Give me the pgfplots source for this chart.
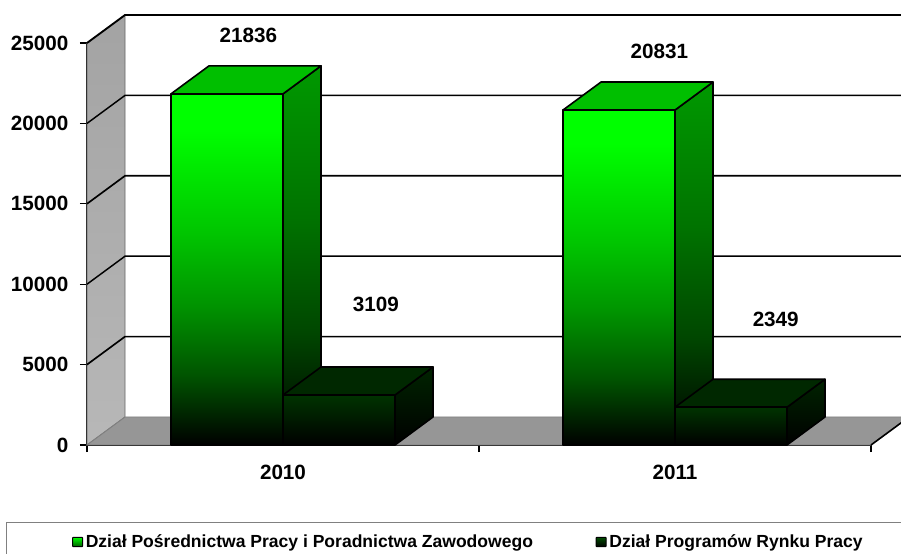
\documentclass[border=0pt]{standalone}
\usepackage{fontspec}
\setmainfont{Liberation Sans}
\usepackage{pgfplots}
\pgfplotsset{compat=1.18}
\pgfdeclareverticalshading{frontA}{100bp}{rgb(0bp)=(0,0,0);rgb(25bp)=(0,0,0);rgb(35bp)=(0,0.33,0);rgb(45bp)=(0,0.58,0);rgb(55bp)=(0,0.77,0);rgb(70bp)=(0,1,0);rgb(75bp)=(0,1,0);rgb(100bp)=(0,1,0)}
\pgfdeclareverticalshading{sideA}{100bp}{rgb(0bp)=(0,0,0);rgb(25bp)=(0,0,0);rgb(40bp)=(0,0.28,0);rgb(55bp)=(0,0.45,0);rgb(75bp)=(0,0.6,0);rgb(100bp)=(0,0.6,0)}
\pgfdeclareverticalshading{frontB}{100bp}{rgb(0bp)=(0,0,0);rgb(25bp)=(0,0,0);rgb(75bp)=(0,0.2,0);rgb(100bp)=(0,0.2,0)}
\pgfdeclareverticalshading{sideB}{100bp}{rgb(0bp)=(0,0,0);rgb(25bp)=(0,0,0);rgb(75bp)=(0,0.14,0);rgb(100bp)=(0,0.14,0)}
\pgfdeclareverticalshading{wallS}{100bp}{rgb(0bp)=(0.72,0.72,0.72);rgb(25bp)=(0.72,0.72,0.72);rgb(75bp)=(0.64,0.64,0.64);rgb(100bp)=(0.64,0.64,0.64)}
\begin{document}
\begin{tikzpicture}
\begin{axis}[
  at={(0pt,0pt)}, anchor=south west,
  scale only axis,
  width=588pt, height=301.5pt,
  xmin=0, xmax=2, ymin=0, ymax=25000,
  clip=false,
  scaled ticks=false,
  axis x line=bottom, axis y line=left,
  axis line style={-, black, line width=1.3pt},
  every axis plot/.append style={forget plot},
  ytick={0,5000,10000,15000,20000,25000},
  yticklabels={0,5000,10000,15000,20000,25000},
  xtick={0.5,1.5}, xticklabels={2010,2011},
  minor xtick={0,1,2},
  major x tick style={draw=none},
  tick align=outside,
  tick style={black, line width=0.9pt},
  major tick length=5.25pt, minor tick length=5.25pt,
  tick label style={font=\fontsize{15.5}{18}\selectfont\bfseries},
  /pgf/number format/assume math mode=true,
  /pgf/number format/1000 sep={},
  yticklabel style={inner xsep=8.6pt},
  xticklabel style={yshift=-6.5pt},
  legend style={at={(-0.0191,-0.2413)}, anchor=west, draw=none, fill=none, inner sep=0pt, outer sep=0pt,
    font=\fontsize{13.15}{16}\selectfont\bfseries, /tikz/every even column/.append style={column sep=45pt}},
  legend columns=2,
  legend cell align=left,
]
% walls
\addplot[shade, shading=wallS, draw=gray!50!black!80, line width=0.6pt] coordinates {(0,0)(0.097,1742)(0.097,26742)(0,25000)} --cycle;
\addplot[fill={rgb,1:red,0.59;green,0.59;blue,0.59}, draw=gray, line width=0.7pt] coordinates {(0,0)(0.097,1742)(2.097,1742)(2,0)} --cycle;
% gridlines
\addplot[black, line width=1.25pt] coordinates {(0,5000)(0.097,6742)(2.097,6742)};
\addplot[black, line width=1.1pt] coordinates {(0,10000)(0.097,11742)(2.097,11742)};
\addplot[black, line width=1.25pt] coordinates {(0,15000)(0.097,16742)(2.097,16742)};
\addplot[black, line width=1.1pt] coordinates {(0,20000)(0.097,21742)(2.097,21742)};
\addplot[black, line width=1.4pt] coordinates {(0,25000)(0.097,26742)(2.097,26742)};
\addplot[black, line width=1.2pt] coordinates {(2,0)(2.097,1742)};
% 2010 A
\addplot[shade, shading=sideA, draw=black, line width=1.2pt, line join=round] coordinates {(0.5,0)(0.597,1742)(0.597,23578)(0.5,21836)} --cycle;
\addplot[fill={rgb,1:red,0;green,0.75;blue,0}, draw=black, line width=1.2pt, line join=round] coordinates {(0.2143,21836)(0.5,21836)(0.597,23578)(0.3113,23578)} --cycle;
\addplot[shade, shading=frontA, draw=black, line width=1.5pt, line join=round] coordinates {(0.2143,0)(0.5,0)(0.5,21836)(0.2143,21836)} --cycle;
% 2010 B
\addplot[shade, shading=sideB, draw=black, line width=1.2pt, line join=round] coordinates {(0.7857,0)(0.8827,1742)(0.8827,4851)(0.7857,3109)} --cycle;
\addplot[fill={rgb,1:red,0;green,0.155;blue,0}, draw=black, line width=1.2pt, line join=round] coordinates {(0.5,3109)(0.7857,3109)(0.8827,4851)(0.597,4851)} --cycle;
\addplot[shade, shading=frontB, draw=black, line width=1.5pt, line join=round] coordinates {(0.5,0)(0.7857,0)(0.7857,3109)(0.5,3109)} --cycle;
% 2011 A
\addplot[shade, shading=sideA, draw=black, line width=1.2pt, line join=round] coordinates {(1.5,0)(1.597,1742)(1.597,22573)(1.5,20831)} --cycle;
\addplot[fill={rgb,1:red,0;green,0.75;blue,0}, draw=black, line width=1.2pt, line join=round] coordinates {(1.2143,20831)(1.5,20831)(1.597,22573)(1.3113,22573)} --cycle;
\addplot[shade, shading=frontA, draw=black, line width=1.5pt, line join=round] coordinates {(1.2143,0)(1.5,0)(1.5,20831)(1.2143,20831)} --cycle;
% 2011 B
\addplot[shade, shading=sideB, draw=black, line width=1.2pt, line join=round] coordinates {(1.7857,0)(1.8827,1742)(1.8827,4091)(1.7857,2349)} --cycle;
\addplot[fill={rgb,1:red,0;green,0.155;blue,0}, draw=black, line width=1.2pt, line join=round] coordinates {(1.5,2349)(1.7857,2349)(1.8827,4091)(1.597,4091)} --cycle;
\addplot[shade, shading=frontB, draw=black, line width=1.5pt, line join=round] coordinates {(1.5,0)(1.7857,0)(1.7857,2349)(1.5,2349)} --cycle;
% labels
\node[font=\fontsize{15.5}{18}\selectfont\bfseries] at (axis cs:0.4115,25500) {21836};
\node[font=\fontsize{15.5}{18}\selectfont\bfseries] at (axis cs:0.737,8760) {3109};
\node[font=\fontsize{15.5}{18}\selectfont\bfseries] at (axis cs:1.46,24500) {20831};
\node[font=\fontsize{15.5}{18}\selectfont\bfseries] at (axis cs:1.757,7820) {2349};
% legend
\addlegendimage{legend image code/.code={\draw[shade, top color={rgb,1:red,0;green,1;blue,0}, bottom color={rgb,1:red,0;green,0.35;blue,0}, draw=black, line width=0.8pt, rounded corners=0.5pt] (0pt,-3.5pt) rectangle (7.5pt,3.5pt);}}
\addlegendentry{Dział Pośrednictwa Pracy i Poradnictwa Zawodowego}
\addlegendimage{legend image code/.code={\draw[shade, top color={rgb,1:red,0;green,0.3;blue,0}, bottom color=black, draw=black, line width=0.8pt, rounded corners=0.5pt] (0pt,-3.5pt) rectangle (7.5pt,3.5pt);}}
\addlegendentry{Dział Programów Rynku Pracy}
\end{axis}
\draw[gray, line width=1.2pt] (-60.4pt,-90pt) -- (-60.4pt,-58pt) -- (620pt,-58pt);
\pgfresetboundingbox
\path (-65.25pt,-81.75pt) rectangle (610.5pt,333.75pt);
\end{tikzpicture}
\end{document}
